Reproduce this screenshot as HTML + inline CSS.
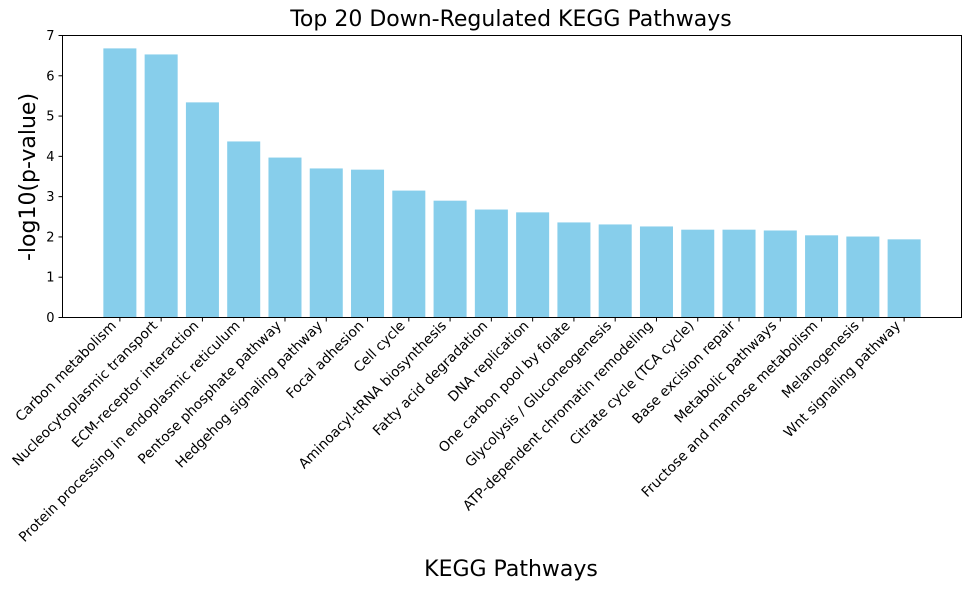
<!DOCTYPE html>
<html><head><meta charset="utf-8"><style>
body{margin:0;background:#fff;}
svg{display:block;font-family:"DejaVu Sans","Liberation Sans",sans-serif;}
</style></head><body>
<svg id="chart" width="971" height="590">
<text x="511" y="26" font-size="22" text-anchor="middle">Top 20 Down-Regulated KEGG Pathways</text>
<text x="511" y="576" font-size="22" text-anchor="middle">KEGG Pathways</text>
<text transform="translate(35,177) rotate(-90)" font-size="22" text-anchor="middle">-log10(p-value)</text>
<g id="bars"></g><g id="yticks"></g><g id="xticks"></g>
<rect x="62.5" y="35.5" width="899" height="282" fill="none" stroke="#000" stroke-width="1"/>
</svg>
<script>
const categories=["Carbon metabolism","Nucleocytoplasmic transport","ECM-receptor interaction","Protein processing in endoplasmic reticulum","Pentose phosphate pathway","Hedgehog signaling pathway","Focal adhesion","Cell cycle","Aminoacyl-tRNA biosynthesis","Fatty acid degradation","DNA replication","One carbon pool by folate","Glycolysis / Gluconeogenesis","ATP-dependent chromatin remodeling","Citrate cycle (TCA cycle)","Base excision repair","Metabolic pathways","Fructose and mannose metabolism","Melanogenesis","Wnt signaling pathway"];
const values=[6.68,6.53,5.34,4.37,3.97,3.70,3.67,3.15,2.90,2.68,2.61,2.36,2.31,2.26,2.18,2.18,2.16,2.04,2.01,1.94];
const yTicks=[0,1,2,3,4,5,6,7];
const NS="http://www.w3.org/2000/svg";
const L=62.5,R=961.5,T=35.5,B=317.5;
const n=categories.length;
const x0=-1.39,x1=n-1+1.39;
const xs=i=>L+(i-x0)/(x1-x0)*(R-L);
const bw=0.8*(R-L)/(x1-x0);
const ys=v=>B-v/7*(B-T);
function mk(tag,attrs,parent){const e=document.createElementNS(NS,tag);for(const k in attrs)e.setAttribute(k,attrs[k]);parent.appendChild(e);return e;}
const gb=document.getElementById('bars'),gy=document.getElementById('yticks'),gx=document.getElementById('xticks');
values.forEach((v,i)=>{
 const r=mk('rect',{x:xs(i)-bw/2,y:ys(v),width:bw,height:B-ys(v),fill:'#87ceeb'},gb);
 
 
});
yTicks.forEach(t=>{
 const y=ys(t);
 mk('line',{x1:L-4,x2:L,y1:y,y2:y,stroke:'#000'},gy);
 const tx=mk('text',{x:L-8,y:y+4.5,'font-size':13,'text-anchor':'end'},gy);
 tx.textContent=t;
 
 
});
categories.forEach((c,i)=>{
 const x=xs(i);
 mk('line',{x1:x,x2:x,y1:B,y2:B+4,stroke:'#000'},gx);
 const ax=x-3, ay=B+9;
 const tx=mk('text',{x:ax,y:ay,'font-size':13.8,'text-anchor':'end',transform:`rotate(-45 ${ax} ${ay})`},gx);
 tx.textContent=c;
 
 
});
</script>
</body></html>
